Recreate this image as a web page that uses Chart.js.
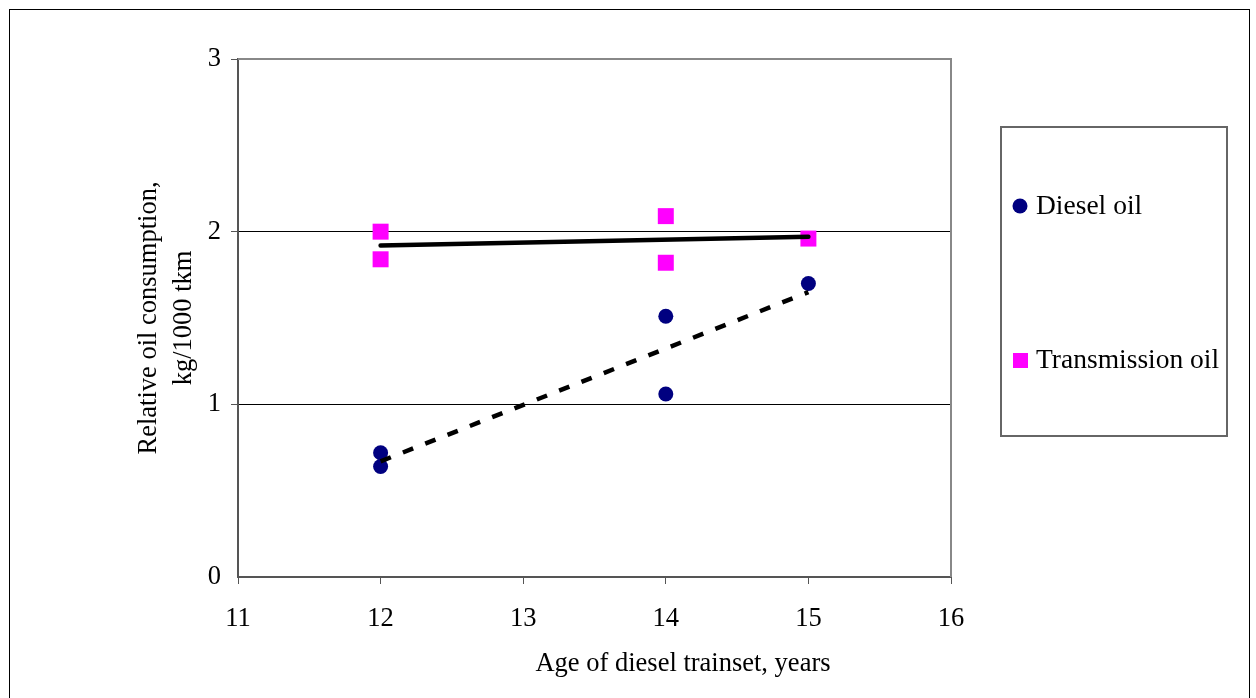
<!DOCTYPE html>
<html>
<head>
<meta charset="utf-8">
<script src="https://cdn.jsdelivr.net/npm/chart.js@4/dist/chart.umd.min.js"></script>
<style>
  html, body { margin: 0; padding: 0; background: #fff; overflow: hidden; }
  #wrap { position: relative; width: 1256px; height: 698px; }
  #frame { position: absolute; left: 9px; top: 9px; width: 1241px; height: 700px; border: 1px solid #000; box-sizing: border-box; pointer-events: none; }
</style>
</head>
<body>
<div id="wrap">
  <canvas id="oilChart" width="1256" height="698"></canvas>
  <div id="frame"></div>
</div>
<script>
// data
const dieselAge = [12, 12, 14, 14, 15];
const dieselOil = [0.72, 0.64, 1.51, 1.06, 1.70];
const transAge = [12, 12, 14, 14, 15];
const transOil = [2.00, 1.84, 2.09, 1.82, 1.96];
// trend lines (start / end)
const trendAge = [12, 15];
const dieselTrend = [0.67, 1.65];
const transTrend = [1.92, 1.97];
const xTicks = [11, 12, 13, 14, 15, 16];
const yTicks = [0, 1, 2, 3];
const xTitle = "Age of diesel trainset, years";

const FONT = "'Liberation Serif', 'Times New Roman', serif";

const toPoints = (xs, ys) => xs.map((x, i) => ({ x, y: ys[i] }));

// gray top/right border of the plot area
const plotFrame = {
  id: "plotFrame",
  beforeDatasetsDraw(chart) {
    const { ctx, chartArea: a } = chart;
    ctx.save();
    ctx.strokeStyle = "#888";
    ctx.lineWidth = 2;
    ctx.beginPath();
    ctx.moveTo(a.left, a.top);
    ctx.lineTo(a.right, a.top);
    ctx.lineTo(a.right, a.bottom);
    ctx.stroke();
    ctx.restore();
  },
};

// boxed legend on the right (marker series only) + x axis title, which sits right of centre
const boxLegend = {
  id: "boxLegend",
  afterDraw(chart) {
    const { ctx } = chart;
    const box = { x: 1001, y: 127, w: 226, h: 309 };
    ctx.save();
    ctx.strokeStyle = "#666";
    ctx.lineWidth = 2;
    ctx.strokeRect(box.x, box.y, box.w, box.h);
    const rows = [206, 360];
    const sets = chart.data.datasets.filter((d) => d.inLegend);
    sets.forEach((ds, i) => {
      const cy = rows[i];
      ctx.fillStyle = ds.backgroundColor;
      if (ds.pointStyle === "rect") {
        ctx.fillRect(1013, cy - 7, 15, 15);
      } else {
        ctx.beginPath();
        ctx.arc(1020, cy, 7.5, 0, Math.PI * 2);
        ctx.fill();
      }
      ctx.fillStyle = "#000";
      ctx.font = "27.5px " + FONT;
      ctx.textBaseline = "middle";
      ctx.textAlign = "left";
      ctx.fillText(ds.label, 1036, cy + 1);
    });

    ctx.font = "26.5px " + FONT;
    ctx.textAlign = "center";
    ctx.textBaseline = "middle";
    ctx.fillText(xTitle, 683, 664);
    ctx.restore();
  },
};

new Chart(document.getElementById("oilChart"), {
  type: "scatter",
  data: {
    datasets: [
      {
        label: "Diesel oil",
        inLegend: true,
        data: toPoints(dieselAge, dieselOil),
        backgroundColor: "#000080",
        borderColor: "#000080",
        pointStyle: "circle",
        pointRadius: 7.5,
        borderWidth: 0,
        order: 1,
      },
      {
        label: "Transmission oil",
        inLegend: true,
        data: toPoints(transAge, transOil),
        backgroundColor: "#FF00FF",
        borderColor: "#FF00FF",
        pointStyle: "rect",
        pointRadius: 11.3,
        borderWidth: 0,
        order: 1,
      },
      {
        label: "Diesel trend",
        type: "line",
        data: toPoints(trendAge, dieselTrend),
        borderColor: "#000",
        borderWidth: 4.5,
        borderDash: [11, 13],
        pointRadius: 0,
        fill: false,
        order: 0,
      },
      {
        label: "Transmission trend",
        type: "line",
        data: toPoints(trendAge, transTrend),
        borderColor: "#000",
        borderWidth: 4.5,
        borderCapStyle: "round",
        pointRadius: 0,
        fill: false,
        order: 0,
      },
    ],
  },
  options: {
    responsive: false,
    animation: false,
    devicePixelRatio: 1,
    layout: { padding: { left: 0, top: 59, right: 305, bottom: 0 } },
    plugins: {
      legend: { display: false },
      tooltip: { enabled: false },
    },
    scales: {
      x: {
        type: "linear",
        min: 11,
        max: 16,
        afterBuildTicks(scale) {
          scale.ticks = xTicks.map((v) => ({ value: v }));
        },
        afterFit(scale) {
          scale.height = 121;
        },
        border: { color: "#555", width: 2 },
        grid: { drawOnChartArea: false, tickLength: 7, tickColor: "#555" },
        ticks: {
          color: "#000",
          padding: 19,
          font: { family: FONT, size: 26.5 },
          maxRotation: 0,
        },
      },
      y: {
        type: "linear",
        min: 0,
        max: 3,
        afterBuildTicks(scale) {
          scale.ticks = yTicks.map((v) => ({ value: v }));
        },
        afterFit(scale) {
          scale.width = 238;
        },
        border: { color: "#555", width: 2 },
        grid: {
          color: (c) => (c.tick && c.tick.value === 3 ? "#888" : "#000"),
          lineWidth: (c) => (c.tick && c.tick.value === 0 ? 0 : 1),
          tickLength: 7,
          tickColor: "#555",
        },
        ticks: {
          color: "#000",
          padding: 10,
          font: { family: FONT, size: 26.5 },
        },
        title: {
          display: true,
          text: ["Relative oil consumption,", "kg/1000 tkm"],
          color: "#000",
          font: { family: FONT, size: 26.5, lineHeight: 1.33 },
          padding: { top: 131, bottom: 0 },
        },
      },
    },
  },
  plugins: [plotFrame, boxLegend],
});
</script>
</body>
</html>
